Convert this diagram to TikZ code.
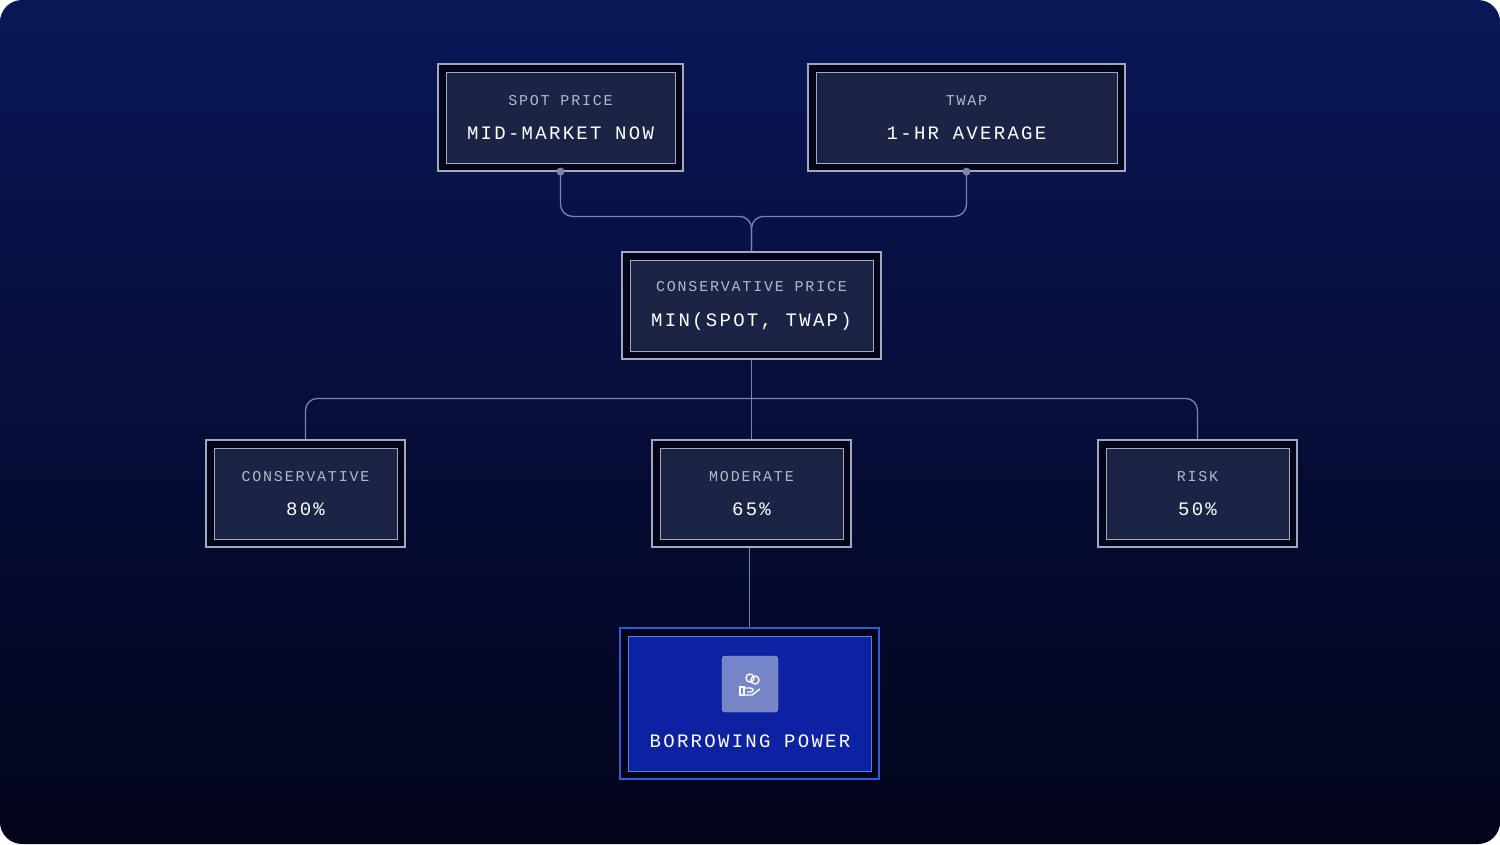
\documentclass[tikz,border=0pt]{standalone}
\usepackage{fontspec}
\setmonofont{Liberation Mono}
\usetikzlibrary{calc}
\definecolor{bgtop}{HTML}{0A1757}
\definecolor{bgbot}{HTML}{02041A}
\definecolor{cardfill}{HTML}{1C2445}
\definecolor{cardline}{HTML}{A4A8BE}
\definecolor{subtxt}{HTML}{B4B8C8}
\definecolor{wire}{HTML}{7C84A8}
\definecolor{bluefill}{HTML}{0C22A0}
\definecolor{blueline}{HTML}{2E5CD6}
\definecolor{iconfill}{HTML}{7684C8}
\tikzset{
  card/.style={draw=cardline, line width=1.2pt, fill=bgbot, align=center,
    path picture={\draw[cardline, line width=1pt, fill=cardfill]
      ([shift={(8pt,8pt)}]path picture bounding box.south west) rectangle
      ([shift={(-8pt,-8pt)}]path picture bounding box.north east);}},
  wire/.style={draw=wire, line width=1.3pt, rounded corners=12pt}
}
\newcommand{\sublbl}[1]{{\fontsize{15}{18}\selectfont\color{subtxt}\addfontfeatures{LetterSpace=12}#1}}
\newcommand{\mainlbl}[1]{{\fontsize{19}{22}\selectfont\color{white}\addfontfeatures{LetterSpace=12}#1}}
\begin{document}
\begin{tikzpicture}[x=1pt, y=-1pt, font=\ttfamily]
        \useasboundingbox (0,0) rectangle (1500,844);
        \fill[white] (0,0) rectangle (1500,844);
        \shade[top color=bgtop, bottom color=bgbot, rounded corners=22pt] (0,0) rectangle (1500,844);

        \node[card, minimum width=245pt, minimum height=107pt] (spot) at (560.5,117.5) {\sublbl{SPOT PRICE}\\[20pt]\mainlbl{MID-MARKET NOW}};
        \node[card, minimum width=317pt, minimum height=107pt] (twap) at (966.5,117.5) {\sublbl{TWAP}\\[20pt]\mainlbl{1-HR AVERAGE}};
        \node[card, minimum width=259pt, minimum height=107pt] (cprice) at (751.5,305.5) {\sublbl{CONSERVATIVE PRICE}\\[20pt]\mainlbl{MIN(SPOT, TWAP)}};

        \node[card, minimum width=199pt, minimum height=107pt] (cons) at (305.5,493.5) {\sublbl{CONSERVATIVE}\\[20pt]\mainlbl{80\%}};
        \node[card, minimum width=199pt, minimum height=107pt] (mod) at (751.5,493.5) {\sublbl{MODERATE}\\[20pt]\mainlbl{65\%}};
        \node[card, minimum width=199pt, minimum height=107pt] (risk) at (1197.5,493.5) {\sublbl{RISK}\\[20pt]\mainlbl{50\%}};

        % result box
        \node[draw=blueline, line width=1.5pt, fill=bgbot, minimum width=259pt, minimum height=151pt,
          path picture={\draw[blueline!80!white, line width=1pt, fill=bluefill]
            ([shift={(8pt,8pt)}]path picture bounding box.south west) rectangle
            ([shift={(-8pt,-8pt)}]path picture bounding box.north east);}] (borrow) at (749.5,703.5) {};
        \node[fill=iconfill, draw=iconfill!70!white, rounded corners=3pt, minimum size=56pt] (icon) at (750,684) {};
        \begin{scope}[shift={(icon.center)}, draw=white, line width=1.4pt]
          \draw (-10,3) rectangle (-6,11);
          \draw (-6,4) -- (0,4) .. controls (4,4) and (4,8) .. (0,8) -- (-3,8);
          \draw (-6,11) -- (2,11) -- (10,5);
          \draw (0,-6) circle (4);
          \draw (5,-4) circle (4);
        \end{scope}
        \node (blbl) at (750,741) {\mainlbl{BORROWING POWER}};

        % connectors
        \fill[fill=wire] (spot.south) circle (4);
        \fill[fill=wire] (twap.south) circle (4);
        \draw[wire] (spot.south) |- ($(cprice.north)+(0,-35)$) -- (cprice.north);
        \draw[wire] (twap.south) |- ($(cprice.north)+(0,-35)$) -- (cprice.north);
        \draw[wire] (cprice.south) -- (mod.north);
        \draw[wire] (cons.north) -- ($(cons.north)+(0,-41)$) -| (risk.north);
        \draw[wire] (mod.south -| borrow.north) -- (borrow.north);
      \end{tikzpicture}
\end{document}
